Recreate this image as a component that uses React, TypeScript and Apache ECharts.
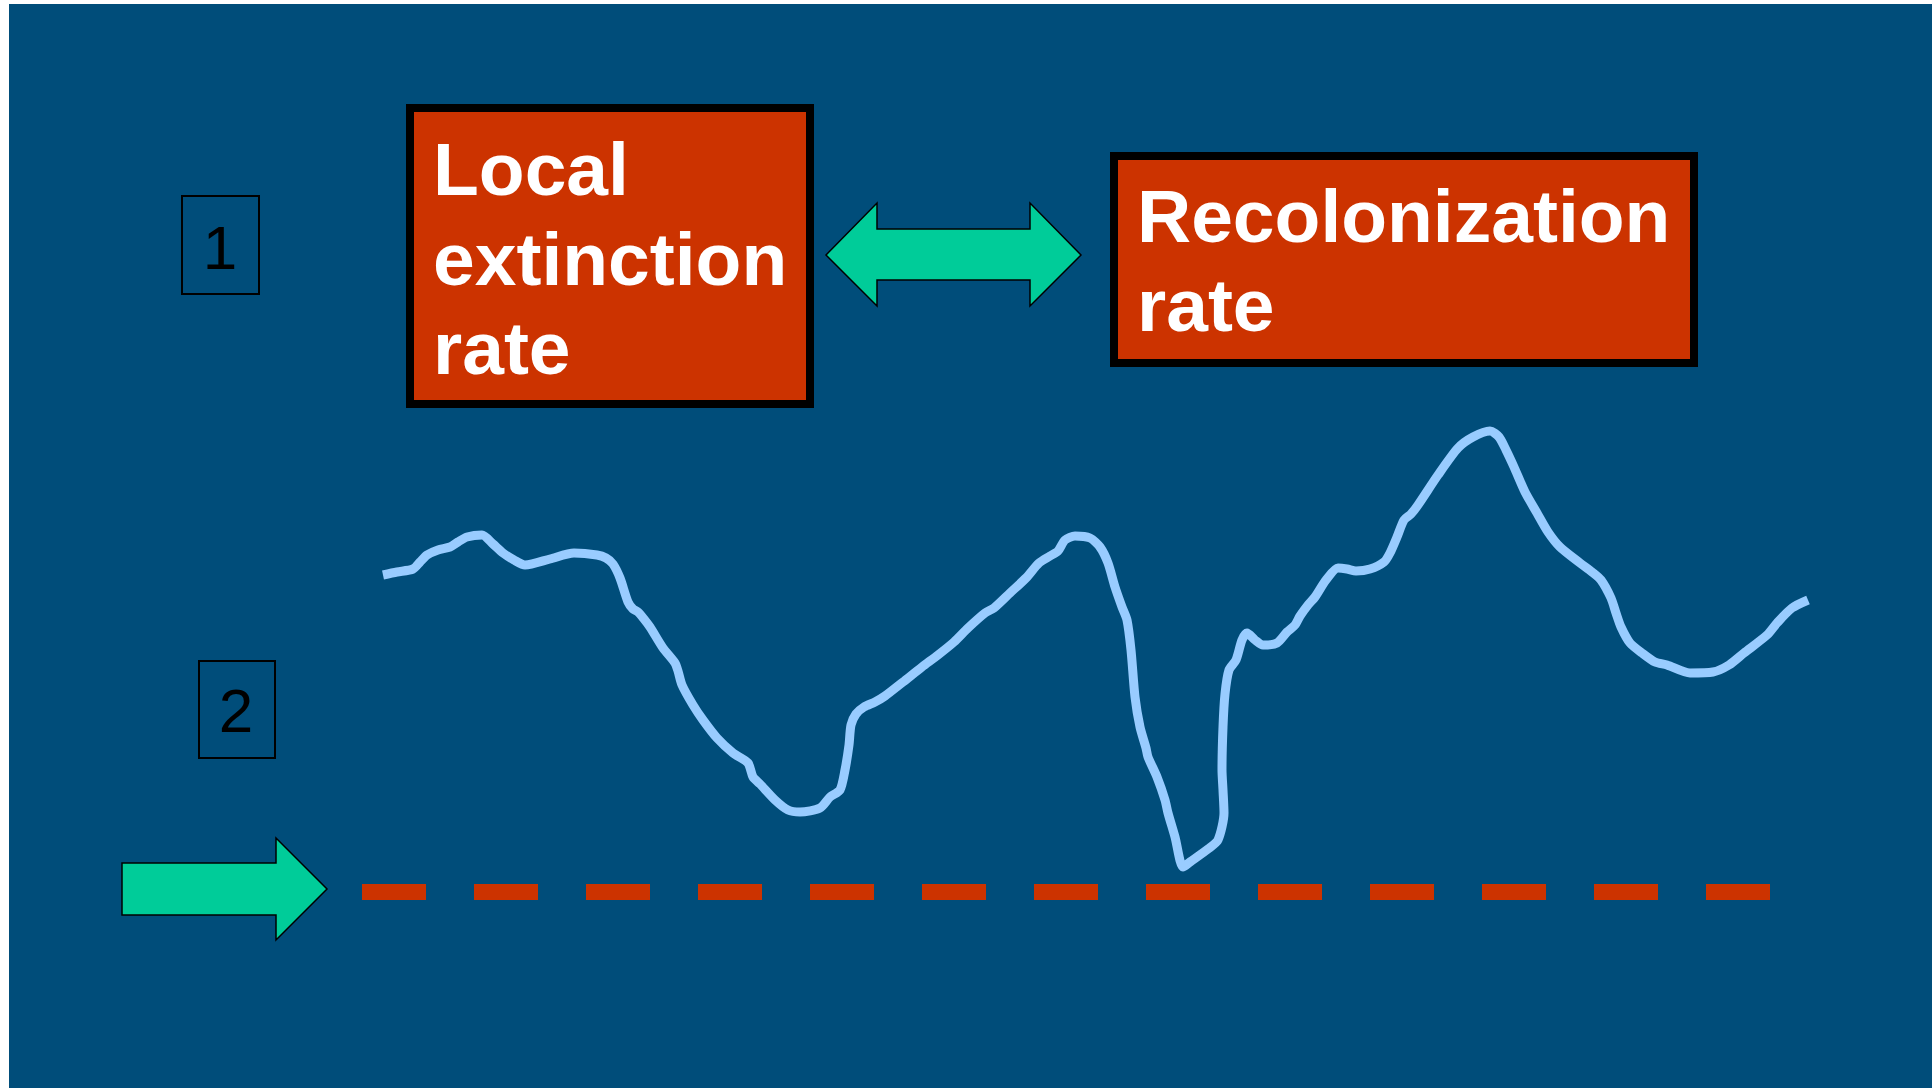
import React, { useEffect, useRef } from "react";
import * as echarts from "echarts";

// Population size over time (arbitrary units)
const timePoints = [
  2.1, 3.5, 5.1, 5.8, 6.5, 7.6, 8.8, 9.6, 10.5, 12.0, 13.1, 14.1, 15.2, 16.3, 18.8, 21.2, 23.5, 24.4, 25.1, 25.8,
  26.6, 27.1, 27.6, 28.2, 28.8, 30.1, 31.3, 31.6, 32.0, 33.1, 34.1, 35.5, 37.1, 38.6, 39.1, 39.8, 41.3, 42.6, 43.8, 45.8,
  46.8, 47.8, 48.3, 48.7, 48.9, 49.4, 50.2, 51.3, 52.3, 54.1, 56.0, 57.6, 59.2, 60.6, 62.3, 63.2, 64.8, 66.4, 67.7, 68.8,
  69.6, 70.3, 71.3, 72.8, 73.8, 74.6, 75.3, 76.0, 76.5, 76.9, 77.3, 77.8, 78.4, 78.6, 79.5, 80.3, 80.6, 81.3, 82.1, 82.8,
  84.6, 85.6, 86.2, 86.1, 86.0, 86.1, 86.3, 86.7, 87.4, 88.0, 88.5, 89.3, 90.1, 91.5, 92.5, 93.3, 93.8, 94.6, 95.3, 96.4,
  97.6, 98.5, 99.4, 100.8, 102.2, 102.8, 103.5, 104.2, 104.9, 105.6, 107.6, 109.6, 111.1, 112.8, 113.7, 114.4, 115.2, 116.3, 117.5, 118.6,
  119.8, 121.8, 123.0, 123.9, 124.9, 125.4, 125.9, 126.8, 128.0, 129.3, 130.5, 132.8, 135.1, 136.7, 138.2, 140.5, 141.5, 143.0, 144.6,
];
const populationValues = [
  63.4, 64.0, 64.6, 66.0, 67.4, 68.4, 69.0, 70.0, 71.0, 71.4, 69.6, 67.8, 66.4, 65.4, 66.6, 67.8, 67.4, 66.8, 65.6, 62.8,
  58.0, 56.6, 56.0, 54.6, 53.0, 48.8, 45.8, 44.2, 41.4, 37.4, 34.4, 30.8, 27.8, 25.8, 23.0, 21.6, 18.4, 16.4, 16.0, 16.8,
  19.0, 20.4, 24.4, 29.4, 33.4, 35.6, 37.0, 38.0, 39.2, 42.0, 45.0, 47.4, 50.0, 52.8, 55.8, 56.8, 59.8, 62.8, 65.8, 67.2,
  68.2, 70.4, 71.2, 70.8, 69.0, 65.8, 61.0, 57.0, 54.4, 48.4, 39.0, 33.0, 28.8, 27.0, 23.0, 18.4, 15.8, 11.0, 5.0, 6.0,
  8.6, 10.4, 15.8, 20.4, 24.4, 33.0, 39.6, 44.4, 46.4, 50.4, 51.8, 50.4, 49.4, 49.8, 52.0, 53.4, 55.2, 57.4, 59.0, 62.4,
  64.8, 64.6, 64.2, 64.6, 66.0, 67.8, 71.0, 74.4, 75.6, 77.4, 83.4, 88.8, 91.0, 92.2, 91.0, 88.4, 85.0, 80.0, 75.8, 72.0,
  69.0, 65.8, 64.0, 62.4, 58.8, 55.8, 53.0, 49.8, 47.8, 46.0, 45.4, 43.8, 44.0, 45.4, 47.8, 51.4, 53.8, 56.8, 58.4,
];
// Extinction threshold line (time span, level)
const thresholdTimes = [0, 140.8];
const thresholdLevel = 0;

const boxLabels = ["1", "2"];
const leftBoxLines = ["Local", "extinction", "rate"];
const rightBoxLines = ["Recolonization", "rate"];

const BLUE = "#004D7A";
const RED = "#CC3300";
const GREEN = "#00CC99";
const LINE = "#99CCFF";
const FONT = "'Liberation Sans', Arial, Helvetica, sans-serif";

export default function App() {
  const ref = useRef<HTMLDivElement>(null);

  useEffect(() => {
    if (!ref.current) return;
    const chart = echarts.init(ref.current, undefined, { renderer: "svg" });

    const bigText = (txt: string, x: number, baseline: number) => ({
      type: "text",
      x,
      y: baseline - 0.3465 * 75,
      z: 5,
      style: {
        text: txt,
        fill: "#FFFFFF",
        font: `bold 75px ${FONT}`,
        verticalAlign: "middle",
        align: "left",
      },
    });

    const graphic: any[] = [
      { type: "rect", z: -10, shape: { x: 9, y: 4, width: 1923, height: 1084 }, style: { fill: BLUE } },
      // number frames
      { type: "rect", z: 1, shape: { x: 182, y: 196, width: 77, height: 98 }, style: { fill: "none", stroke: "#000", lineWidth: 2 } },
      {
        type: "text", z: 2, x: 220, y: 269 - 0.3465 * 62,
        style: { text: boxLabels[0], fill: "#000", font: `62px ${FONT}`, align: "center", verticalAlign: "middle" },
      },
      { type: "rect", z: 1, shape: { x: 199, y: 661, width: 76, height: 97 }, style: { fill: "none", stroke: "#000", lineWidth: 2 } },
      {
        type: "text", z: 2, x: 236, y: 732 - 0.3465 * 62,
        style: { text: boxLabels[1], fill: "#000", font: `62px ${FONT}`, align: "center", verticalAlign: "middle" },
      },
      // red boxes
      { type: "rect", z: 1, shape: { x: 410, y: 108, width: 400, height: 296 }, style: { fill: RED, stroke: "#000", lineWidth: 8 } },
      { type: "rect", z: 1, shape: { x: 1114, y: 156, width: 580, height: 207 }, style: { fill: RED, stroke: "#000", lineWidth: 8 } },
      bigText(leftBoxLines[0], 433, 195),
      bigText(leftBoxLines[1], 433, 284.5),
      bigText(leftBoxLines[2], 433, 374),
      bigText(rightBoxLines[0], 1137, 242),
      bigText(rightBoxLines[1], 1137, 331),
      // double arrow
      {
        type: "polygon", z: 1,
        shape: {
          points: [
            [826, 255], [877, 203], [877, 229], [1030, 229], [1030, 203],
            [1081, 255], [1030, 306], [1030, 280], [877, 280], [877, 306],
          ],
        },
        style: { fill: GREEN, stroke: "#000", lineWidth: 1.5 },
      },
      // right arrow
      {
        type: "polygon", z: 1,
        shape: {
          points: [[122, 863], [276, 863], [276, 838], [327, 889], [276, 940], [276, 915], [122, 915]],
        },
        style: { fill: GREEN, stroke: "#000", lineWidth: 1.5 },
      },
    ];

    chart.setOption({
      animation: false,
      backgroundColor: "#FFFFFF",
      grid: { left: 362, right: 70, top: 392, bottom: 196, containLabel: false },
      xAxis: { type: "value", min: 0, max: 150, show: false },
      yAxis: { type: "value", min: 0, max: 100, show: false },
      graphic,
      series: [
        {
          type: "line",
          name: "threshold",
          data: thresholdTimes.map((t) => [t, thresholdLevel]),
          symbol: "none",
          clip: false,
          z: 3,
          lineStyle: { color: RED, width: 16, type: [64, 48], cap: "butt" },
        },
        {
          type: "line",
          name: "population",
          data: timePoints.map((t, i) => [t, populationValues[i]]),
          symbol: "none",
          smooth: 0.25,
          clip: false,
          z: 4,
          lineStyle: { color: LINE, width: 9, cap: "butt", join: "round" },
        },
      ],
    });

    return () => chart.dispose();
  }, []);

  return (
    <div
      ref={ref}
      style={{ position: "absolute", left: 0, top: 0, width: 1932, height: 1088 }}
    />
  );
}
